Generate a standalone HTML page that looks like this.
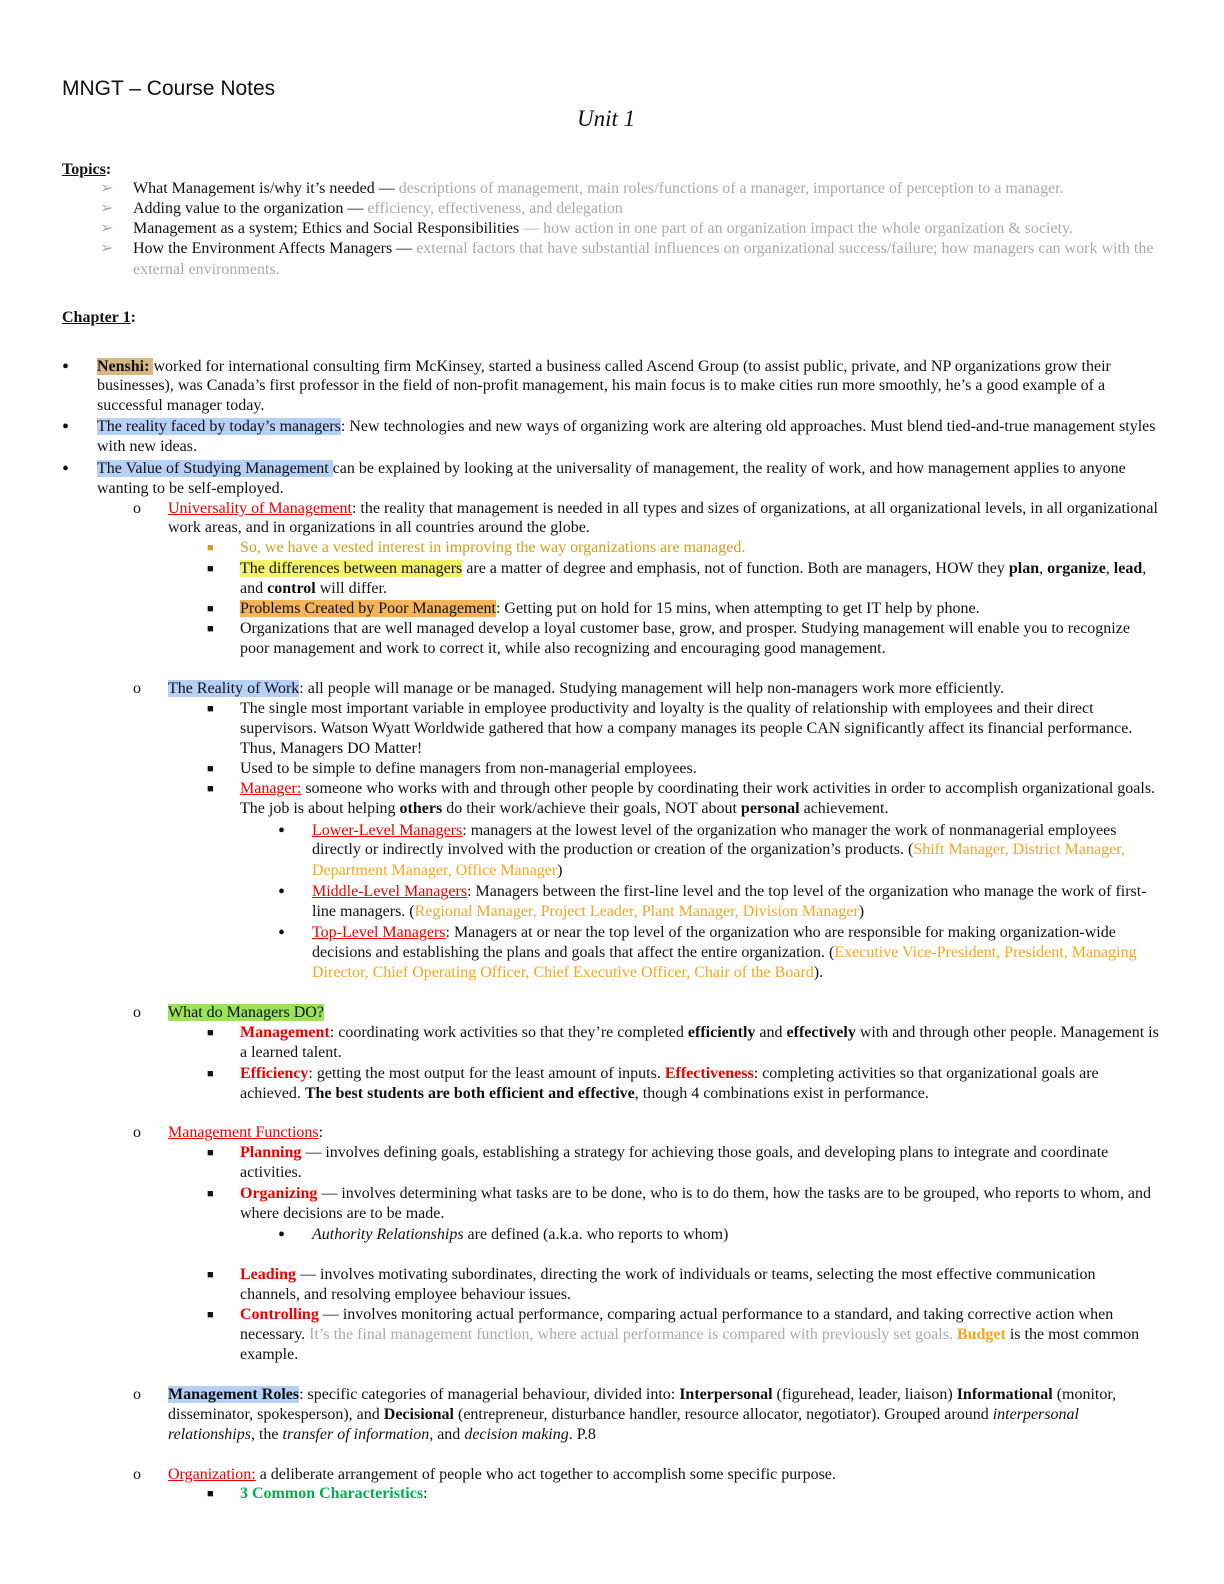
<!DOCTYPE html>
<html><head><meta charset="utf-8"><style>
body{margin:0;width:1224px;height:1584px;background:#fff;position:relative;font-family:"Liberation Serif",serif;font-size:16px;color:#111}
.l{position:absolute;white-space:nowrap;line-height:20px;height:20px}
.g{color:#aaa}.r{color:#e00}.ru{color:#e00;text-decoration:underline}
.o{color:#f5a623}.gold{color:#d4a017}.gr{color:#00b050}
.hb{background:#b7d0f8}.hy{background:#f3f36a}.ho{background:#f4b45a}.hg{background:#9be35a}.ht{background:#d6b783}
.d{font-size:20px}.s{font-size:11px}
</style></head><body>
<div style="position:absolute;left:0;top:3px;width:1224px;height:1580px">
<div class="l" style="left:62px;top:74px;font-family:'Liberation Sans',sans-serif;font-size:21px;height:24px;line-height:24px">MNGT – Course Notes</div>
<div class="l" style="left:577px;top:103px;font-style:italic;font-size:23px;height:26px;line-height:26px">Unit 1</div>
<div class="l" style="left:62px;top:157px"><b><u>Topics</u>:</b></div>
<div class="l g" style="left:100px;top:176px">➢</div><div class="l" style="left:133px;top:176px">What Management is/why it’s needed — <span class="g">descriptions of management, main roles/functions of a manager, importance of perception to a manager.</span></div>
<div class="l g" style="left:100px;top:196px">➢</div><div class="l" style="left:133px;top:196px">Adding value to the organization — <span class="g">efficiency, effectiveness, and delegation</span></div>
<div class="l g" style="left:100px;top:216px">➢</div><div class="l" style="left:133px;top:216px">Management as a system; Ethics and Social Responsibilities <span class="g">— how action in one part of an organization impact the whole organization &amp; society.</span></div>
<div class="l g" style="left:100px;top:236px">➢</div><div class="l" style="left:133px;top:236px">How the Environment Affects Managers — <span class="g">external factors that have substantial influences on organizational success/failure; how managers can work with the</span></div>
<div class="l g" style="left:133px;top:257px">external environments.</div>
<div class="l" style="left:62px;top:305px"><b><u>Chapter 1</u>:</b></div>

<div class="l d" style="left:62px;top:354px">•</div><div class="l" style="left:97px;top:354px"><b class="ht">Nenshi: </b>worked for international consulting firm McKinsey, started a business called Ascend Group (to assist public, private, and NP organizations grow their</div>
<div class="l" style="left:97px;top:373px">businesses), was Canada’s first professor in the field of non-profit management, his main focus is to make cities run more smoothly, he’s a good example of a</div>
<div class="l" style="left:97px;top:393px">successful manager today.</div>
<div class="l d" style="left:62px;top:414px">•</div><div class="l" style="left:97px;top:414px"><span class="hb">The reality faced by today’s managers</span>: New technologies and new ways of organizing work are altering old approaches. Must blend tied-and-true management styles</div>
<div class="l" style="left:97px;top:434px">with new ideas.</div>
<div class="l d" style="left:62px;top:456px">•</div><div class="l" style="left:97px;top:456px"><span class="hb">The Value of Studying Management </span>can be explained by looking at the universality of management, the reality of work, and how management applies to anyone</div>
<div class="l" style="left:97px;top:476px">wanting to be self-employed.</div>

<div class="l" style="left:133px;top:496px">o</div><div class="l" style="left:168px;top:496px"><span class="ru">Universality of Management</span>: the reality that management is needed in all types and sizes of organizations, at all organizational levels, in all organizational</div>
<div class="l" style="left:168px;top:515px">work areas, and in organizations in all countries around the globe.</div>
<div class="l gold s" style="left:207px;top:535px">■</div><div class="l gold" style="left:240px;top:535px">So, we have a vested interest in improving the way organizations are managed.</div>
<div class="l s" style="left:207px;top:556px">■</div><div class="l" style="left:240px;top:556px"><span class="hy">The differences between managers</span> are a matter of degree and emphasis, not of function. Both are managers, HOW they <b>plan</b>, <b>organize</b>, <b>lead</b>,</div>
<div class="l" style="left:240px;top:576px">and <b>control</b> will differ.</div>
<div class="l s" style="left:207px;top:596px">■</div><div class="l" style="left:240px;top:596px"><span class="ho">Problems Created by Poor Management</span>: Getting put on hold for 15 mins, when attempting to get IT help by phone.</div>
<div class="l s" style="left:207px;top:616px">■</div><div class="l" style="left:240px;top:616px">Organizations that are well managed develop a loyal customer base, grow, and prosper. Studying management will enable you to recognize</div>
<div class="l" style="left:240px;top:636px">poor management and work to correct it, while also recognizing and encouraging good management.</div>

<div class="l" style="left:133px;top:676px">o</div><div class="l" style="left:168px;top:676px"><span class="hb">The Reality of Work</span>: all people will manage or be managed. Studying management will help non-managers work more efficiently.</div>
<div class="l s" style="left:207px;top:696px">■</div><div class="l" style="left:240px;top:696px">The single most important variable in employee productivity and loyalty is the quality of relationship with employees and their direct</div>
<div class="l" style="left:240px;top:716px">supervisors. Watson Wyatt Worldwide gathered that how a company manages its people CAN significantly affect its financial performance.</div>
<div class="l" style="left:240px;top:736px">Thus, Managers DO Matter!</div>
<div class="l s" style="left:207px;top:756px">■</div><div class="l" style="left:240px;top:756px">Used to be simple to define managers from non-managerial employees.</div>
<div class="l s" style="left:207px;top:776px">■</div><div class="l" style="left:240px;top:776px"><span class="ru">Manager:</span> someone who works with and through other people by coordinating their work activities in order to accomplish organizational goals.</div>
<div class="l" style="left:240px;top:796px">The job is about helping <b>others</b> do their work/achieve their goals, NOT about <b>personal</b> achievement.</div>
<div class="l d" style="left:278px;top:818px">•</div><div class="l" style="left:312px;top:818px"><span class="ru">Lower-Level Managers</span>: managers at the lowest level of the organization who manager the work of nonmanagerial employees</div>
<div class="l" style="left:312px;top:837px">directly or indirectly involved with the production or creation of the organization’s products. (<span class="o">Shift Manager, District Manager,</span></div>
<div class="l o" style="left:312px;top:858px">Department Manager, Office Manager<span style="color:#111">)</span></div>
<div class="l d" style="left:278px;top:879px">•</div><div class="l" style="left:312px;top:879px"><span class="ru">Middle-Level Managers</span>: Managers between the first-line level and the top level of the organization who manage the work of first-</div>
<div class="l" style="left:312px;top:899px">line managers. (<span class="o">Regional Manager, Project Leader, Plant Manager, Division Manager</span>)</div>
<div class="l d" style="left:278px;top:920px">•</div><div class="l" style="left:312px;top:920px"><span class="ru">Top-Level Managers</span>: Managers at or near the top level of the organization who are responsible for making organization-wide</div>
<div class="l" style="left:312px;top:940px">decisions and establishing the plans and goals that affect the entire organization. (<span class="o">Executive Vice-President, President, Managing</span></div>
<div class="l" style="left:312px;top:960px"><span class="o">Director, Chief Operating Officer, Chief Executive Officer, Chair of the Board</span>).</div>

<div class="l" style="left:133px;top:1000px">o</div><div class="l" style="left:168px;top:1000px"><span class="hg">What do Managers DO?</span></div>
<div class="l s" style="left:207px;top:1020px">■</div><div class="l" style="left:240px;top:1020px"><b class="r">Management</b>: coordinating work activities so that they’re completed <b>efficiently</b> and <b>effectively</b> with and through other people. Management is</div>
<div class="l" style="left:240px;top:1040px">a learned talent.</div>
<div class="l s" style="left:207px;top:1061px">■</div><div class="l" style="left:240px;top:1061px"><b class="r">Efficiency</b>: getting the most output for the least amount of inputs. <b class="r">Effectiveness</b>: completing activities so that organizational goals are</div>
<div class="l" style="left:240px;top:1081px">achieved. <b>The best students are both efficient and effective</b>, though 4 combinations exist in performance.</div>

<div class="l" style="left:133px;top:1120px">o</div><div class="l" style="left:168px;top:1120px"><span class="ru">Management Functions</span>:</div>
<div class="l s" style="left:207px;top:1140px">■</div><div class="l" style="left:240px;top:1140px"><b class="r">Planning</b> — involves defining goals, establishing a strategy for achieving those goals, and developing plans to integrate and coordinate</div>
<div class="l" style="left:240px;top:1160px">activities.</div>
<div class="l s" style="left:207px;top:1181px">■</div><div class="l" style="left:240px;top:1181px"><b class="r">Organizing</b> — involves determining what tasks are to be done, who is to do them, how the tasks are to be grouped, who reports to whom, and</div>
<div class="l" style="left:240px;top:1201px">where decisions are to be made.</div>
<div class="l d" style="left:278px;top:1222px">•</div><div class="l" style="left:312px;top:1222px"><i>Authority Relationships</i> are defined (a.k.a. who reports to whom)</div>
<div class="l s" style="left:207px;top:1262px">■</div><div class="l" style="left:240px;top:1262px"><b class="r">Leading</b> — involves motivating subordinates, directing the work of individuals or teams, selecting the most effective communication</div>
<div class="l" style="left:240px;top:1282px">channels, and resolving employee behaviour issues.</div>
<div class="l s" style="left:207px;top:1302px">■</div><div class="l" style="left:240px;top:1302px"><b class="r">Controlling</b> — involves monitoring actual performance, comparing actual performance to a standard, and taking corrective action when</div>
<div class="l" style="left:240px;top:1322px">necessary. <span class="g">It’s the final management function, where actual performance is compared with previously set goals.</span> <b class="o">Budget</b> is the most common</div>
<div class="l" style="left:240px;top:1342px">example.</div>

<div class="l" style="left:133px;top:1382px">o</div><div class="l" style="left:168px;top:1382px"><b class="hb">Management Roles</b>: specific categories of managerial behaviour, divided into: <b>Interpersonal</b> (figurehead, leader, liaison) <b>Informational</b> (monitor,</div>
<div class="l" style="left:168px;top:1402px">disseminator, spokesperson), and <b>Decisional</b> (entrepreneur, disturbance handler, resource allocator, negotiator). Grouped around <i>interpersonal</i></div>
<div class="l" style="left:168px;top:1422px"><i>relationships</i>, the <i>transfer of information</i>, and <i>decision making</i>. P.8</div>

<div class="l" style="left:133px;top:1462px">o</div><div class="l" style="left:168px;top:1462px"><span class="ru">Organization:</span> a deliberate arrangement of people who act together to accomplish some specific purpose.</div>
<div class="l s" style="left:207px;top:1481px">■</div><div class="l" style="left:240px;top:1481px"><b class="gr">3 Common Characteristics</b>:</div>
</div>
</body></html>
